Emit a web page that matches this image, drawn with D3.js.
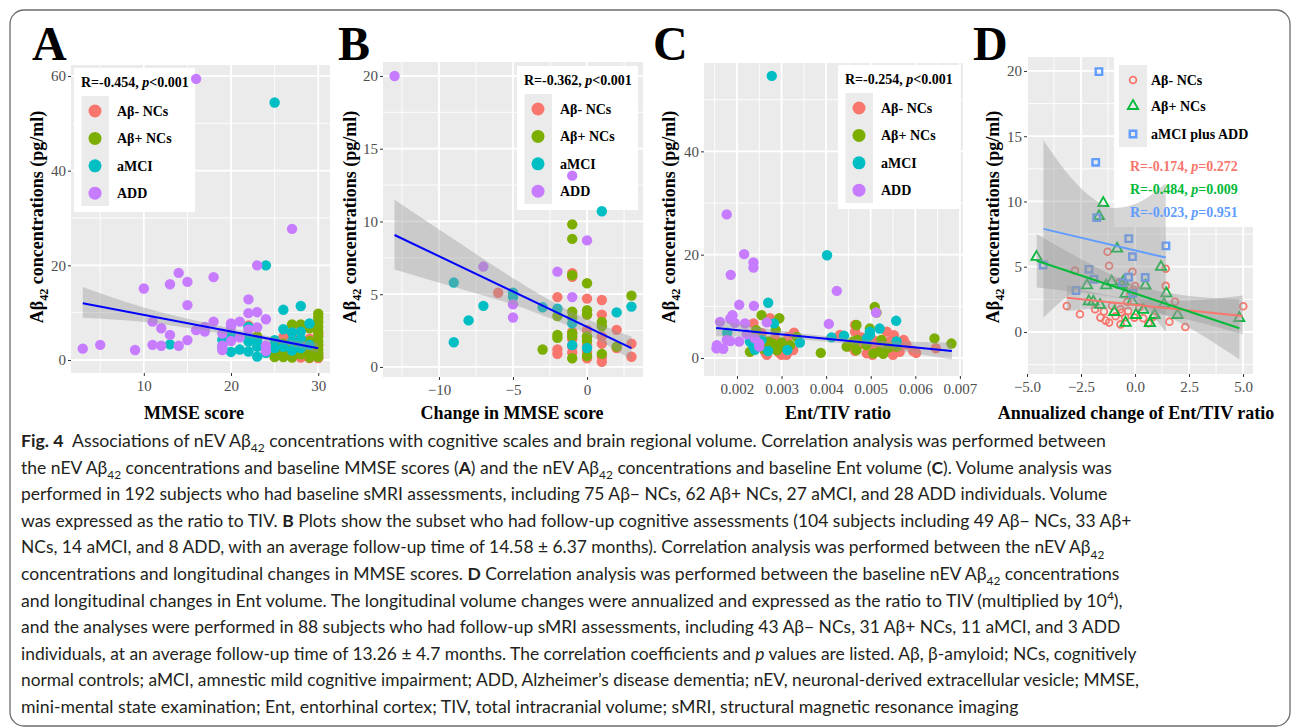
<!DOCTYPE html>
<html>
<head>
<meta charset="utf-8">
<script src="https://cdn.jsdelivr.net/npm/d3@7"></script>
<style>
body { margin: 0; background: #fff; }
svg text { font-family: "Liberation Serif", "Times New Roman", serif; }
.cap text { font-family: Lato, "Open Sans", sans-serif; white-space: pre; }
</style>
</head>
<body>
<svg id="fig" width="1293" height="728"></svg>
<script>
// ---- Panel A: nEV Abeta42 vs baseline MMSE
var negA = [[22,7.3],[23,4.8],[25,1.2],[26,4.8],[26,1.5],[27,3.2],[27,1.0],[28,6.5],[28,2.2],[28,0.5],[28,1.2],[29,0.4],[29,2.0],[29,4.5],[30,1.0],[30,0.4],[30,3.0],[30,5.5],[28,3.8],[27,5.0]]
var posA = [[23,5.0],[25,0.6],[25,1.5],[25,3.0],[26,0.6],[26,2.0],[26,3.5],[27,7.5],[27,0.5],[27,2.5],[28,1.2],[28,7.5],[29,4.0],[29,1.0],[29,2.5],[29,6.7],[29,0.5],[30,9.8],[30,9.0],[30,8.0],[30,7.0],[30,6.0],[30,5.0],[30,4.0],[30,3.2],[30,2.2],[30,1.5],[30,0.6]]
var mciA = [[13,3.3],[19,4.3],[19,2.8],[20,5.6],[20,1.7],[20,4.3],[21,2.2],[22,7.0],[22,3.9],[22,1.8],[22,4.8],[23,3.9],[23,2.8],[23,0.7],[24,20.0],[24,1.5],[25,54.4],[25,4.2],[25,2.5],[26,10.6],[26,6.5],[26,2.8],[27,5.8],[27,4.0],[27,2.0],[28,11.4],[28,6.0],[28,4.5],[28,2.5],[29,7.7],[29,3.2]]
var addA = [[3,2.4],[5,3.2],[9,2.1],[10,15.1],[11,8.1],[11,3.2],[12,6.7],[12,3.0],[13,16.0],[13,5.3],[14,18.4],[14,3.0],[15,16.5],[15,11.6],[15,4.2],[16,59.4],[16,6.3],[17,6.0],[17,7.0],[18,17.5],[18,8.1],[19,5.6],[19,3.0],[19,2.1],[20,7.7],[20,4.0],[20,7.0],[21,8.1],[21,4.8],[22,12.8],[22,9.9],[22,6.4],[23,20.0],[23,10.1],[23,6.9],[24,8.6],[24,3.0],[24,1.9],[27,27.7]]
var lineA = [[3, 12.0], [30, 2.5]]
var bandAx = [3, 10, 17, 22, 26, 30]
var bandAlo = [8.9, 8.0, 6.2, 4.7, 3.3, 1.5]
var bandAhi = [15.4, 11.1, 7.9, 5.9, 4.5, 3.6]

// ---- Panel B: nEV Abeta42 vs change in MMSE
var negB = [[-6,5.1],[-2,4.8],[-2,1.2],[-2,0.9],[-1,6.45],[-1,6.2],[-1,2.4],[-1,1.9],[-1,1.4],[-1,1.0],[0,4.7],[0,3.6],[0,2.54],[0,2.08],[0,1.5],[0,1.05],[0,0.6],[1,4.6],[1,3.6],[1,2.1],[1,1.6],[1,0.7],[1,0.36],[2,2.55],[2,1.3],[3,1.6],[3,0.7]]
var posB = [[-3,1.2],[-2,2.2],[-2,2.0],[-2,3.5],[-1,9.8],[-1,8.8],[-1,6.3],[-1,3.8],[-1,3.4],[-1,2.3],[-1,2.1],[-1,0.6],[0,5.75],[0,3.9],[0,3.6],[0,2.1],[0,1.8],[0,0.75],[1,3.1],[1,2.8],[1,0.9],[2,1.4],[3,4.9]]
var mciB = [[-9,1.7],[-9,5.8],[-8,3.2],[-7,4.2],[-5,5.1],[-5,4.8],[-3,4.1],[-2,4.0],[-1,3.0],[-1,1.5],[0,1.3],[1,10.7],[2,3.75],[3,4.15]]
var addB = [[-13,20.0],[-7,6.9],[-5,4.3],[-5,3.4],[-2,6.55],[-1,13.15],[-1,4.8],[0,8.7]]
var lineB = [[-13, 9.07], [3, 1.3]]
var bandBx = [-13, -8, -5, -2, 0, 3]
var bandBlo = [6.7, 5.2, 4.3, 3.15, 2.25, 0.5]
var bandBhi = [11.5, 8.1, 6.1, 4.3, 3.3, 2.1]

// ---- Panel C: nEV Abeta42 vs Ent/TIV ratio
var negC = [[0.00237,6.7],[0.00274,7.7],[0.00328,4.9],[0.00267,0.6],[0.003,0.6],[0.00326,1.55],[0.00263,1.2],[0.00289,1.5],[0.00311,0.6],[0.00431,4.45],[0.00465,6.4],[0.00465,5.1],[0.00476,2.8],[0.00491,0.9],[0.00504,0.6],[0.00536,5.1],[0.00543,3.2],[0.0055,0.6],[0.00565,1.2],[0.00574,3.5],[0.00595,1.4],[0.00602,1.0],[0.00646,1.9],[0.00524,3.2],[0.00483,2.8],[0.0051,2.0],[0.00453,2.2],[0.0056,2.2],[0.00255,4.8],[0.00282,2.5],[0.00315,4.1],[0.00295,1.0],[0.00465,1.4],[0.0053,1.2],[0.0048,4.0],[0.00552,4.4],[0.00505,3.5],[0.0058,2.6],[0.00285,3.8],[0.0027,2.0]]
var posC = [[0.00255,8.3],[0.00295,7.7],[0.00287,5.4],[0.00243,5.4],[0.00229,1.2],[0.0026,1.8],[0.00281,2.8],[0.0029,1.5],[0.00319,2.5],[0.00334,4.1],[0.00388,1.0],[0.00468,6.4],[0.00509,9.9],[0.00513,8.8],[0.00498,5.7],[0.00446,2.2],[0.00468,1.55],[0.0049,2.5],[0.00506,0.9],[0.00528,0.8],[0.00524,3.5],[0.00558,2.2],[0.00643,3.8],[0.00681,2.8],[0.00461,3.2],[0.00265,2.5],[0.0027,3.2],[0.003,3.0],[0.0031,2.0],[0.0047,3.5],[0.0054,2.0],[0.0052,1.3]]
var mciC = [[0.00278,54.6],[0.00402,19.9],[0.0027,10.7],[0.00557,7.2],[0.00283,6.7],[0.00178,4.9],[0.00229,3.2],[0.00237,2.2],[0.0027,1.35],[0.00313,1.55],[0.00341,3.0],[0.00412,4.0],[0.0044,4.3],[0.00498,5.1],[0.00498,4.5],[0.0052,5.7],[0.00558,3.2],[0.00491,3.8],[0.00255,3.5],[0.0024,1.6]]
var addC = [[0.00177,27.8],[0.00216,20.1],[0.00237,18.5],[0.00237,17.5],[0.00186,16.1],[0.00205,10.3],[0.00238,10.1],[0.00424,13.0],[0.00406,6.6],[0.00512,8.8],[0.00267,6.9],[0.00162,7.0],[0.0019,8.3],[0.00185,7.6],[0.00154,1.9],[0.00169,1.8],[0.00155,2.5],[0.00185,3.3],[0.00205,3.2],[0.00218,6.7],[0.00222,4.6],[0.0025,2.8],[0.0025,2.2],[0.00177,3.5],[0.00195,6.8],[0.0024,3.8]]
var lineC = [[0.00153, 5.8], [0.00682, 1.35]]
var bandCx = [0.00153, 0.0025, 0.0037, 0.005, 0.00682]
var bandClo = [4.2, 4.1, 3.4, 2.2, -0.3]
var bandChi = [7.4, 5.9, 4.5, 3.5, 3.0]

// ---- Panel D: nEV Abeta42 vs annualized change of Ent/TIV
var negD = [[-1.27,6.15],[-1.2,5.08],[-2.78,4.7],[-0.12,4.62],[1.42,4.85],[-0.71,3.82],[0.0,3.52],[1.42,3.53],[1.85,2.32],[-3.16,1.99],[-2.55,1.36],[-1.85,1.74],[-1.44,1.56],[-1.36,0.87],[-1.2,0.72],[-1.06,1.99],[-0.67,1.74],[-0.67,0.58],[-0.35,2.32],[-0.32,1.6],[-0.46,1.13],[-0.03,1.1],[0.38,1.05],[0.62,0.67],[0.85,1.17],[1.59,0.79],[2.33,0.38],[5.01,1.97],[-0.23,2.83],[-0.08,3.22],[-0.62,1.48],[-0.9,1.2],[0.2,1.9],[-1.6,1.1]]
var posD = [[-4.56,5.75],[-1.47,9.88],[-1.67,8.87],[-0.83,6.38],[1.2,4.98],[-2.22,3.57],[-1.34,3.57],[-1.08,3.86],[-0.54,3.86],[0.48,3.56],[-0.44,2.92],[1.45,2.96],[-2.14,2.35],[-1.93,2.32],[-1.62,2.07],[-0.13,2.35],[1.34,2.13],[-0.96,1.53],[0.38,1.69],[0.04,1.3],[0.91,1.3],[1.97,1.3],[-0.44,0.7],[0.69,0.67],[4.82,1.07],[-0.6,3.6]]
var impD = [[-1.67,19.95],[-1.82,13.0],[-1.77,8.76],[-0.29,7.15],[-0.12,5.77],[1.43,6.6],[-4.25,5.13],[-2.13,4.8],[-1.9,4.04],[-2.73,3.18],[-0.3,4.19],[0.47,4.17],[-0.58,3.78],[-0.1,2.95]]
var lineDneg = [[-3.16, 2.63], [4.98, 1.23]]
var lineDpos = [[-4.55, 5.46], [4.83, 0.28]]
var lineDimp = [[-4.24, 7.9], [1.42, 5.7]]
var bandDnegX = [-3.16, -1.5, 0, 2, 4.98]
var bandDnegLo = [1.6, 1.8, 1.65, 1.1, -0.2]
var bandDnegHi = [3.6, 2.9, 2.55, 2.4, 2.8]
var bandDposX = [-4.55, -2.5, -0.5, 1.5, 4.83]
var bandDposLo = [3.4, 3.0, 2.5, 1.2, -2.1]
var bandDposHi = [7.5, 5.6, 3.95, 3.0, 2.5]
var bandDimpX = [-4.24, -3, -2, -1, 0, 1.42]
var bandDimpLo = [1.1, 2.9, 3.7, 3.8, 2.7, 0.0]
var bandDimpHi = [14.7, 11.9, 10.3, 9.5, 9.8, 11.4]

var groupNames = ['Aβ- NCs', 'Aβ+ NCs', 'aMCI', 'ADD']
var groupColors = ['#F8766D', '#7CAE00', '#00BFC4', '#C77CFF']
var groupNamesD = ['Aβ- NCs', 'Aβ+ NCs', 'aMCI plus ADD']
var groupColorsD = ['#F8766D', '#00BA38', '#619CFF']
var statA = ['R=-0.454, ', ['i', 'p'], '<0.001']
var statB = ['R=-0.362, ', ['i', 'p'], '<0.001']
var statC = ['R=-0.254, ', ['i', 'p'], '<0.001']
var statD = [['R=-0.174, ', ['i', 'p'], '=0.272'], ['R=-0.484, ', ['i', 'p'], '=0.009'], ['R=-0.023, ', ['i', 'p'], '=0.951']]
var yTitle = ['Aβ', ['sub', '42'], ' concentrations (pg/ml)']

var caption = [
  [['b', 'Fig. 4'], '  Associations of nEV Aβ', ['sub', '42'], ' concentrations with cognitive scales and brain regional volume. Correlation analysis was performed between'],
  ['the nEV Aβ', ['sub', '42'], ' concentrations and baseline MMSE scores (', ['b', 'A'], ') and the nEV Aβ', ['sub', '42'], ' concentrations and baseline Ent volume (', ['b', 'C'], '). Volume analysis was'],
  ['performed in 192 subjects who had baseline sMRI assessments, including 75 Aβ− NCs, 62 Aβ+ NCs, 27 aMCI, and 28 ADD individuals. Volume'],
  ['was expressed as the ratio to TIV. ', ['b', 'B'], ' Plots show the subset who had follow-up cognitive assessments (104 subjects including 49 Aβ− NCs, 33 Aβ+'],
  ['NCs, 14 aMCI, and 8 ADD, with an average follow-up time of 14.58 ± 6.37 months). Correlation analysis was performed between the nEV Aβ', ['sub', '42']],
  ['concentrations and longitudinal changes in MMSE scores. ', ['b', 'D'], ' Correlation analysis was performed between the baseline nEV Aβ', ['sub', '42'], ' concentrations'],
  ['and longitudinal changes in Ent volume. The longitudinal volume changes were annualized and expressed as the ratio to TIV (multiplied by 10', ['sup', '4'], '),'],
  ['and the analyses were performed in 88 subjects who had follow-up sMRI assessments, including 43 Aβ− NCs, 31 Aβ+ NCs, 11 aMCI, and 3 ADD'],
  ['individuals, at an average follow-up time of 13.26 ± 4.7 months. The correlation coefficients and ', ['i', 'p'], ' values are listed. Aβ, β-amyloid; NCs, cognitively'],
  ['normal controls; aMCI, amnestic mild cognitive impairment; ADD, Alzheimer’s disease dementia; nEV, neuronal-derived extracellular vesicle; MMSE,'],
  ['mini-mental state examination; Ent, entorhinal cortex; TIV, total intracranial volume; sMRI, structural magnetic resonance imaging']
]
var captionRight = [1107, 1113, 1108, 1132, 1105, 1120, 1123, 1121, 1137, 1140, 1019]

var svg = d3.select('#fig')

svg.append('rect')
  .attr('x', 10).attr('y', 10).attr('width', 1280).attr('height', 716)
  .attr('rx', 14).attr('fill', 'none').attr('stroke', '#6b6b6b').attr('stroke-width', 1.3)

// writes segments (plain / bold / italic / sub / sup) as tspans
function richText(sel, segs, size) {
  var shift = 0
  segs.forEach(function(s) {
    var kind = typeof s === 'string' ? 'n' : s[0]
    var str = typeof s === 'string' ? s : s[1]
    var t = sel.append('tspan').text(str)
    var target = kind === 'sub' ? size * 0.3 : (kind === 'sup' ? -size * 0.4 : 0)
    if (target !== shift) {
      t.attr('dy', target - shift)
      shift = target
    }
    if (kind === 'sub' || kind === 'sup') t.attr('font-size', size * 0.68)
    if (kind === 'b') t.attr('font-weight', 'bold')
    if (kind === 'i') t.attr('font-style', 'italic')
  })
  return sel
}

function makePanel(p) {
  var x = d3.scaleLinear().domain(p.xDomain).range([p.left, p.right])
  var y = d3.scaleLinear().domain(p.yDomain).range([p.bottom, p.top])
  var g = svg.append('g')
  g.append('rect')
    .attr('x', p.left).attr('y', p.top)
    .attr('width', p.right - p.left).attr('height', p.bottom - p.top)
    .attr('fill', '#EBEBEB')

  function vgrid(vals, w) {
    g.selectAll(null).data(vals).enter().append('line')
      .attr('x1', function(d) { return x(d) }).attr('x2', function(d) { return x(d) })
      .attr('y1', p.top).attr('y2', p.bottom)
      .attr('stroke', '#fff').attr('stroke-width', w)
  }
  function hgrid(vals, w) {
    g.selectAll(null).data(vals).enter().append('line')
      .attr('y1', function(d) { return y(d) }).attr('y2', function(d) { return y(d) })
      .attr('x1', p.left).attr('x2', p.right)
      .attr('stroke', '#fff').attr('stroke-width', w)
  }
  vgrid(p.xMinor, 0.9)
  hgrid(p.yMinor, 0.9)
  vgrid(p.xTicks, 1.8)
  hgrid(p.yTicks, 1.8)

  var xa = g.append('g')
    .attr('transform', 'translate(0,' + p.bottom + ')')
    .call(d3.axisBottom(x).tickValues(p.xTicks).tickSize(3).tickPadding(4).tickFormat(p.xFormat))
  var ya = g.append('g')
    .attr('transform', 'translate(' + p.left + ',0)')
    .call(d3.axisLeft(y).tickValues(p.yTicks).tickSize(3).tickPadding(2).tickFormat(p.yFormat))
  ;[xa, ya].forEach(function(a) {
    a.select('.domain').remove()
    a.attr('font-family', null).attr('font-size', 15)
    a.selectAll('line').attr('stroke', '#333')
    a.selectAll('text').attr('fill', '#4D4D4D')
  })

  richText(g.append('text')
    .attr('transform', 'translate(' + p.yTitleX + ',217) rotate(-90)')
    .attr('text-anchor', 'middle').attr('font-weight', 'bold').attr('font-size', 18)
    .attr('fill', '#000'), yTitle, 18)

  g.append('text')
    .attr('x', p.xTitleX).attr('y', 419)
    .attr('text-anchor', 'middle').attr('font-weight', 'bold').attr('font-size', 18)
    .text(p.xTitle)

  g.append('text')
    .attr('x', p.labelX).attr('y', 60)
    .attr('font-weight', 'bold').attr('font-size', 48)
    .text(p.label)

  svg.append('clipPath').attr('id', 'clip' + p.label)
    .append('rect')
    .attr('x', p.left).attr('y', p.top)
    .attr('width', p.right - p.left).attr('height', p.bottom - p.top)

  return { g: g, x: x, y: y, clip: 'url(#clip' + p.label + ')' }
}

function drawBand(P, xs, lo, hi) {
  var area = d3.area()
    .x(function(d) { return P.x(d[0]) })
    .y0(function(d) { return P.y(d[1]) })
    .y1(function(d) { return P.y(d[2]) })
    .curve(d3.curveMonotoneX)
  P.g.append('path')
    .attr('d', area(d3.zip(xs, lo, hi)))
    .attr('fill', '#999999').attr('fill-opacity', 0.4)
    .attr('clip-path', P.clip)
}

function drawLine(P, pts, color) {
  P.g.append('path')
    .attr('d', d3.line().x(function(d) { return P.x(d[0]) }).y(function(d) { return P.y(d[1]) })(pts))
    .attr('fill', 'none').attr('stroke', color).attr('stroke-width', 2)
}

function legendBox(P, x0, y0) {
  P.g.append('rect').attr('x', x0).attr('y', y0).attr('width', 121).attr('height', 144).attr('fill', '#fff')
  P.g.append('rect').attr('x', x0 + 7.5).attr('y', y0 + 28).attr('width', 27.5).attr('height', 110).attr('fill', '#EBEBEB')
}

function legendText(P, x0, y0, stat) {
  richText(P.g.append('text')
    .attr('x', x0 + 7).attr('y', y0 + 19)
    .attr('font-weight', 'bold').attr('font-size', 14), stat, 14)
  groupNames.forEach(function(name, i) {
    var cy = y0 + 43 + i * 27.4
    P.g.append('circle').attr('cx', x0 + 21).attr('cy', cy).attr('r', 6.5).attr('fill', groupColors[i])
    P.g.append('text').attr('x', x0 + 43).attr('y', cy + 5)
      .attr('font-weight', 'bold').attr('font-size', 14).text(name)
  })
}

function drawDots(P, groups) {
  groups.forEach(function(pts, i) {
    P.g.selectAll(null).data(pts).enter().append('circle')
      .attr('cx', function(d) { return P.x(d[0]) })
      .attr('cy', function(d) { return P.y(d[1]) })
      .attr('r', 5.2)
      .attr('fill', groupColors[i])
  })
}

var fmtInt = d3.format('d')

// ---------- A
var A = makePanel({
  label: 'A', labelX: 32, left: 71, right: 330, top: 65, bottom: 373,
  xDomain: [1.65, 31.35], yDomain: [-2.75, 62.33],
  xTicks: [10, 20, 30], xMinor: [5, 15, 25], yTicks: [0, 20, 40, 60], yMinor: [10, 30, 50],
  xFormat: fmtInt, yFormat: fmtInt, yTitleX: 43, xTitleX: 194, xTitle: 'MMSE score'
})
legendBox(A, 74, 68)
drawDots(A, [negA, posA, mciA, addA])
drawBand(A, bandAx, bandAlo, bandAhi)
drawLine(A, lineA, '#0000FF')
legendText(A, 74, 68, statA)

// ---------- B
var B = makePanel({
  label: 'B', labelX: 338, left: 383, right: 643, top: 62, bottom: 377,
  xDomain: [-13.78, 3.78], yDomain: [-0.69, 20.96],
  xTicks: [-10, -5, 0], xMinor: [-12.5, -7.5, -2.5, 2.5], yTicks: [0, 5, 10, 15, 20], yMinor: [2.5, 7.5, 12.5, 17.5],
  xFormat: fmtInt, yFormat: fmtInt, yTitleX: 356, xTitleX: 512, xTitle: 'Change in MMSE score'
})
legendBox(B, 517, 66)
drawDots(B, [negB, posB, mciB, addB])
drawBand(B, bandBx, bandBlo, bandBhi)
drawLine(B, lineB, '#0000FF')
legendText(B, 517, 66, statB)

// ---------- C
var C = makePanel({
  label: 'C', labelX: 653, left: 704, right: 963, top: 63, bottom: 376,
  xDomain: [0.00126, 0.00707], yDomain: [-3.48, 57.1],
  xTicks: [0.002, 0.003, 0.004, 0.005, 0.006, 0.007], xMinor: [0.0015, 0.0025, 0.0035, 0.0045, 0.0055, 0.0065],
  yTicks: [0, 20, 40], yMinor: [10, 30, 50],
  xFormat: d3.format('.3f'), yFormat: fmtInt, yTitleX: 675, xTitleX: 838, xTitle: 'Ent/TIV ratio'
})
legendBox(C, 838, 65)
drawDots(C, [negC, posC, mciC, addC])
drawBand(C, bandCx, bandClo, bandChi)
drawLine(C, lineC, '#0000FF')
legendText(C, 838, 65, statC)

// ---------- D
var D = makePanel({
  label: 'D', labelX: 973, left: 1027, right: 1253, top: 57, bottom: 374,
  xDomain: [-5.0, 5.46], yDomain: [-3.22, 21.07],
  xTicks: [-5, -2.5, 0, 2.5, 5], xMinor: [-3.75, -1.25, 1.25, 3.75],
  yTicks: [0, 5, 10, 15, 20], yMinor: [-2.5, 2.5, 7.5, 12.5, 17.5],
  xFormat: d3.format('.1f'), yFormat: fmtInt, yTitleX: 999, xTitleX: 1136, xTitle: 'Annualized change of Ent/TIV ratio'
})
D.g.append('rect').attr('x', 1114).attr('y', 57).attr('width', 139).attr('height', 170).attr('fill', '#fff')
D.g.append('rect').attr('x', 1119).attr('y', 65).attr('width', 28).attr('height', 82).attr('fill', '#EBEBEB')

var symTri = d3.symbol().type(d3.symbolTriangle).size(46)
var symSq = d3.symbol().type(d3.symbolSquare).size(42)
function shapeD(sel, i) {
  if (i === 0) {
    sel.append('circle').attr('r', 3.4)
  } else {
    sel.append('path').attr('d', i === 1 ? symTri() : symSq())
  }
  sel.attr('fill', 'none').attr('stroke', groupColorsD[i]).attr('stroke-width', i === 2 ? 2.4 : 1.8)
}
;[negD, posD, impD].forEach(function(pts, i) {
  pts.forEach(function(d) {
    var s = D.g.append('g').attr('transform', 'translate(' + D.x(d[0]) + ',' + D.y(d[1]) + ')')
    shapeD(s, i)
  })
})
drawBand(D, bandDnegX, bandDnegLo, bandDnegHi)
drawBand(D, bandDposX, bandDposLo, bandDposHi)
drawBand(D, bandDimpX, bandDimpLo, bandDimpHi)
drawLine(D, lineDneg, groupColorsD[0])
drawLine(D, lineDpos, groupColorsD[1])
drawLine(D, lineDimp, groupColorsD[2])

groupNamesD.forEach(function(name, i) {
  var cy = [80, 106, 134][i]
  shapeD(D.g.append('g').attr('transform', 'translate(1133,' + cy + ')'), i)
  D.g.append('text').attr('x', 1151).attr('y', cy + 5)
    .attr('font-weight', 'bold').attr('font-size', 14).text(name)
})
statD.forEach(function(segs, i) {
  richText(D.g.append('text')
    .attr('x', 1130).attr('y', [171, 194, 217][i])
    .attr('font-weight', 'bold').attr('font-size', 14)
    .attr('fill', groupColorsD[i]), segs, 14)
})

// ---------- caption: each line squeezed horizontally to the reference width
var cap = svg.append('g').attr('class', 'cap')
caption.forEach(function(segs, i) {
  var y0 = 447 + i * 26.6
  var t = cap.append('text')
    .attr('x', 0).attr('y', 0)
    .attr('font-size', 17.5).attr('fill', '#231F20')
  richText(t, segs, 17.5)
  var natural = t.node().getComputedTextLength()
  var sx = (captionRight[i] - 21) / natural
  t.attr('transform', 'translate(21,' + y0 + ') scale(' + sx + ',1)')
})
</script>
</body>
</html>
